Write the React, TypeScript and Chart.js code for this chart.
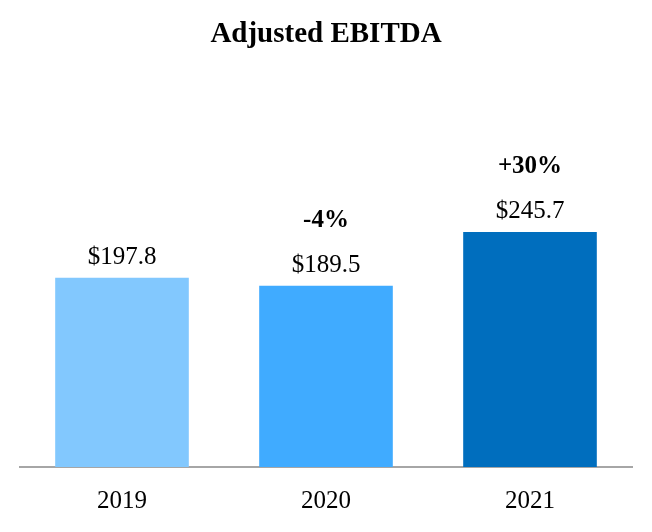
import React, { useEffect, useRef } from "react";
import { Chart, registerables } from "chart.js";

Chart.register(...registerables);

const TITLE = "Adjusted EBITDA";
const CATEGORIES = ["2019", "2020", "2021"];
const VALUES = [197.8, 189.5, 245.7];
const VALUE_LABELS = ["$197.8", "$189.5", "$245.7"];
const CHANGE_LABELS = ["", "-4%", "+30%"];
const BAR_COLORS = ["#82C8FE", "#40ABFF", "#006EBE"];

const FONT = "'Liberation Serif', 'Times New Roman', serif";

const labelPlugin = {
  id: "labelPlugin",
  afterDraw(chart: any) {
    const { ctx } = chart;
    const meta = chart.getDatasetMeta(0);
    const xScale = chart.scales.x;
    const area = chart.chartArea;
    ctx.save();
    ctx.fillStyle = "#000000";
    ctx.textAlign = "center";
    ctx.textBaseline = "alphabetic";
    // title
    ctx.font = `bold 29px ${FONT}`;
    ctx.fillText(TITLE, chart.width / 2, 42);
    meta.data.forEach((bar: any, i: number) => {
      ctx.font = `25px ${FONT}`;
      ctx.fillText(VALUE_LABELS[i], bar.x, bar.y - 14);
      if (CHANGE_LABELS[i]) {
        ctx.font = `bold 25px ${FONT}`;
        ctx.fillText(CHANGE_LABELS[i], bar.x, bar.y - 59);
      }
    });
    ctx.font = `25px ${FONT}`;
    CATEGORIES.forEach((c, i) => {
      ctx.fillText(c, xScale.getPixelForValue(i), area.bottom + 41);
    });
    ctx.restore();
  },
};

export default function App() {
  const ref = useRef<HTMLCanvasElement>(null);
  useEffect(() => {
    if (!ref.current) return;
    const chart = new Chart(ref.current, {
      type: "bar",
      data: {
        labels: CATEGORIES,
        datasets: [
          {
            data: VALUES,
            backgroundColor: BAR_COLORS,
            borderWidth: 0,
            barPercentage: 0.655,
            categoryPercentage: 1,
          },
        ],
      },
      options: {
        animation: false,
        responsive: true,
        maintainAspectRatio: false,
        layout: { padding: { top: 180, bottom: 65, left: 20, right: 20 } },
        plugins: {
          legend: { display: false },
          title: { display: false },
          tooltip: { enabled: false },
        },
        scales: {
          x: {
            ticks: { display: false },
            grid: { display: false, drawTicks: false },
            border: { display: true, color: "#A6A6A6", width: 2 },
          },
          y: {
            display: false,
            min: 0,
            max: 300,
          },
        },
      },
      plugins: [labelPlugin],
    });
    return () => chart.destroy();
  }, []);
  return (
    <div style={{ position: "fixed", left: 0, top: 0, width: 652, height: 532, background: "#ffffff" }}>
      <canvas ref={ref} />
    </div>
  );
}
